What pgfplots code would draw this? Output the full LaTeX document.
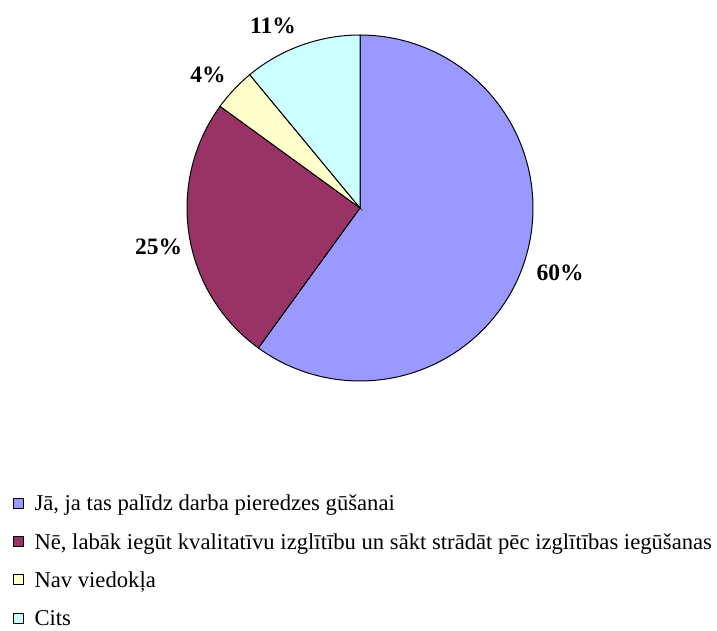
\documentclass[border=0pt]{standalone}
\usepackage{pgfplots}
\pgfplotsset{compat=1.18}
\usepackage{fontspec}
\setmainfont{Liberation Serif}
\newcommand\legfont{\fontsize{22.65bp}{26bp}\selectfont}
\newcommand\pctfont{\fontsize{23.5bp}{27bp}\selectfont\bfseries}
\definecolor{cA}{HTML}{9999FF}
\definecolor{cB}{HTML}{993366}
\definecolor{cC}{HTML}{FFFFCC}
\definecolor{cD}{HTML}{CCFFFF}
\begin{document}
\begin{tikzpicture}
\begin{axis}[
  width=717bp, height=626bp, scale only axis,
  xmin=0, xmax=717, ymin=0, ymax=626, y dir=reverse,
  hide axis, clip=false,
  legend cell align=left,
  legend style={at={(axis cs:12.5,494.8)}, anchor=north west, draw=none, fill=none,
    inner sep=0pt, outer sep=0pt,
    font=\legfont,
    nodes={inner sep=0pt, outer sep=0pt, text height=16bp, text depth=5bp},
    row sep=17.3bp, column sep=11bp},
  legend image code/.code={\draw[#1,draw=black,line width=1bp] (0bp,-3bp) rectangle (10bp,7bp);},
]
% slices: 60%, 25%, 4%, 11%, clockwise from 12 o'clock; centre (360,208), radius 173
\addplot[fill=cA, draw=black, line width=1bp, domain=0:216, samples=120, variable=\t]
  ({360+173*sin(\t)},{208-173*cos(\t)}) -- (axis cs:360,208) -- cycle;
\addlegendentry{Jā, ja tas palīdz darba pieredzes gūšanai}
\addplot[fill=cB, draw=black, line width=1bp, domain=216:306, samples=60, variable=\t]
  ({360+173*sin(\t)},{208-173*cos(\t)}) -- (axis cs:360,208) -- cycle;
\addlegendentry{Nē, labāk iegūt kvalitatīvu izglītību un sākt strādāt pēc izglītības iegūšanas}
\addplot[fill=cC, draw=black, line width=1bp, domain=306:320.4, samples=15, variable=\t]
  ({360+173*sin(\t)},{208-173*cos(\t)}) -- (axis cs:360,208) -- cycle;
\addlegendentry{Nav viedokļa}
\addplot[fill=cD, draw=black, line width=1bp, domain=320.4:360, samples=30, variable=\t]
  ({360+173*sin(\t)},{208-173*cos(\t)}) -- (axis cs:360,208) -- cycle;
\addlegendentry{Cits}
\node[font=\pctfont] at (axis cs:560,273) {60\%};
\node[font=\pctfont] at (axis cs:158.5,246.5) {25\%};
\node[font=\pctfont] at (axis cs:208,75) {4\%};
\node[font=\pctfont] at (axis cs:273,26) {11\%};
\path (rel axis cs:0,0) rectangle (rel axis cs:1,1);
\end{axis}
\end{tikzpicture}
\end{document}
